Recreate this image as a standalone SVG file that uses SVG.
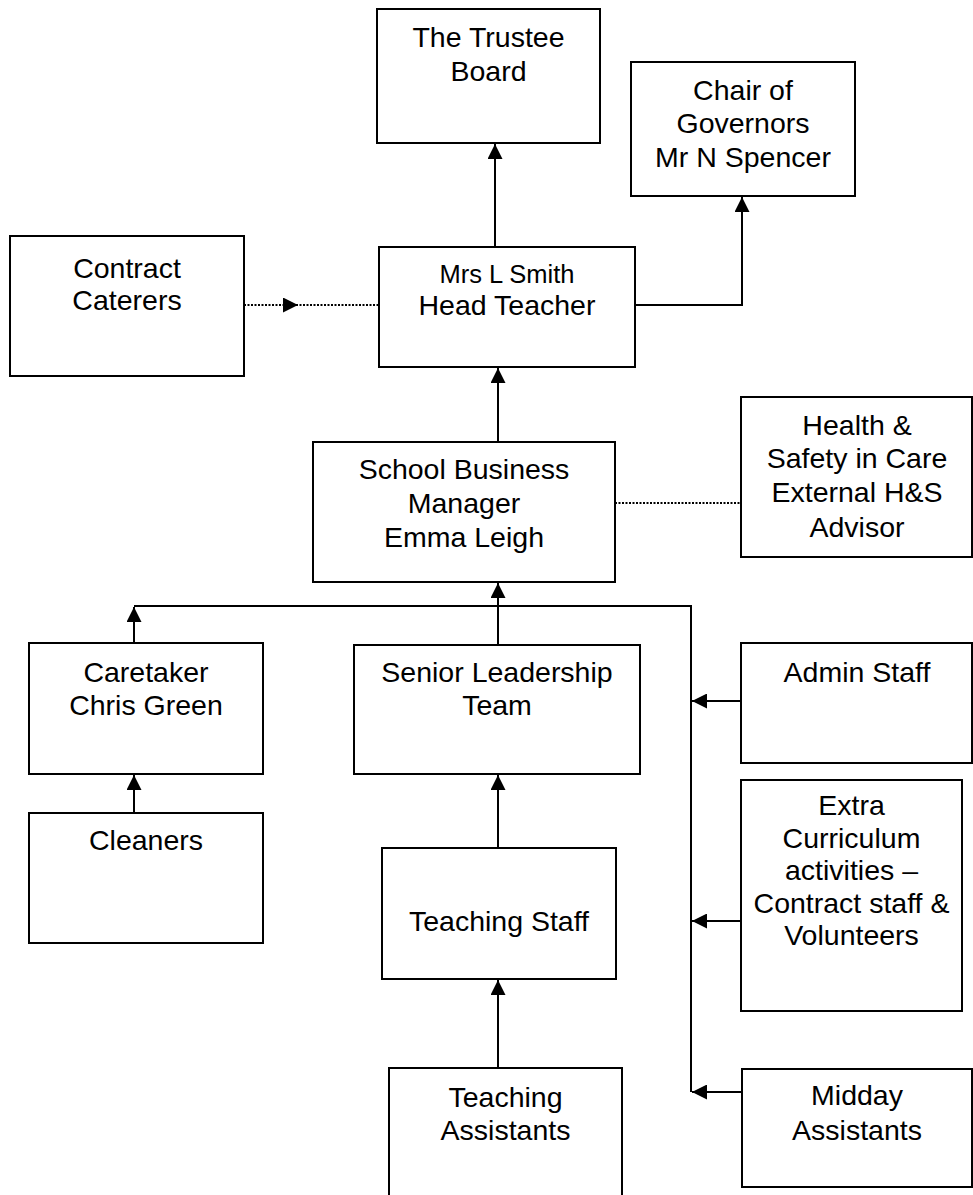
<svg xmlns="http://www.w3.org/2000/svg" width="973" height="1195" viewBox="0 0 973 1195">
<style>
.box{fill:#fff;stroke:#000;stroke-width:2}
.t{font-family:"Liberation Sans",Arial,sans-serif;font-size:28.5px;fill:#000;text-anchor:middle}
.s{font-size:25.5px}
.ln{fill:none;stroke:#000;stroke-width:2}
.dot{fill:none;stroke:#000;stroke-width:2;stroke-dasharray:2 1.5}
</style>
<defs>
<marker id="ah" viewBox="0 0 10 10" refX="10" refY="5" markerWidth="15" markerHeight="15" markerUnits="userSpaceOnUse" orient="auto">
<path d="M0,0 L10,5 L0,10 z" fill="#000"/>
</marker>
</defs>
<rect width="973" height="1195" fill="#fff"/>
<g id="connectors">
<line class="ln" x1="495" y1="247" x2="495" y2="144" marker-end="url(#ah)"/>
<polyline class="ln" points="635,305 742,305 742,197" marker-end="url(#ah)"/>
<line class="dot" x1="244" y1="305" x2="298" y2="305" marker-end="url(#ah)"/>
<line class="dot" x1="296" y1="305" x2="379" y2="305"/>
<line class="ln" x1="498" y1="442" x2="498" y2="368" marker-end="url(#ah)"/>
<line class="dot" x1="615" y1="503" x2="741" y2="503"/>
<polyline class="ln" points="134,606 691,606 691,1092"/>
<line class="ln" x1="134" y1="643" x2="134" y2="607" marker-end="url(#ah)"/>
<line class="ln" x1="498" y1="645" x2="498" y2="583" marker-end="url(#ah)"/>
<line class="ln" x1="134" y1="813" x2="134" y2="775" marker-end="url(#ah)"/>
<line class="ln" x1="498" y1="848" x2="498" y2="775" marker-end="url(#ah)"/>
<line class="ln" x1="498" y1="1068" x2="498" y2="980" marker-end="url(#ah)"/>
<line class="ln" x1="741" y1="701" x2="692" y2="701" marker-end="url(#ah)"/>
<line class="ln" x1="741" y1="921" x2="692" y2="921" marker-end="url(#ah)"/>
<line class="ln" x1="742" y1="1092" x2="692" y2="1092" marker-end="url(#ah)"/>
</g>
<g id="trustee"><rect class="box" x="377" y="9" width="223" height="134"/>
<text class="t" x="488.5" y="47">The Trustee</text><text class="t" x="488.5" y="81">Board</text></g>
<g id="chair"><rect class="box" x="631" y="62" width="224" height="134"/>
<text class="t" x="743" y="100">Chair of</text><text class="t" x="743" y="133">Governors</text><text class="t" x="743" y="167">Mr N Spencer</text></g>
<g id="caterers"><rect class="box" x="10" y="236" width="234" height="140"/>
<text class="t" x="127" y="278">Contract</text><text class="t" x="127" y="310">Caterers</text></g>
<g id="head"><rect class="box" x="379" y="247" width="256" height="120"/>
<text class="t s" x="507" y="283">Mrs L Smith</text><text class="t" x="507" y="315">Head Teacher</text></g>
<g id="sbm"><rect class="box" x="313" y="442" width="302" height="140"/>
<text class="t" x="464" y="479">School Business</text><text class="t" x="464" y="513">Manager</text><text class="t" x="464" y="547">Emma Leigh</text></g>
<g id="hs"><rect class="box" x="741" y="397" width="231" height="160"/>
<text class="t" x="857" y="435">Health &amp;</text><text class="t" x="857" y="468">Safety in Care</text><text class="t" x="857" y="502">External H&amp;S</text><text class="t" x="857" y="537">Advisor</text></g>
<g id="caretaker"><rect class="box" x="29" y="643" width="234" height="131"/>
<text class="t" x="146" y="682">Caretaker</text><text class="t" x="146" y="715">Chris Green</text></g>
<g id="slt"><rect class="box" x="354" y="645" width="286" height="129"/>
<text class="t" x="497" y="682">Senior Leadership</text><text class="t" x="497" y="715">Team</text></g>
<g id="admin"><rect class="box" x="741" y="643" width="231" height="120"/>
<text class="t" x="857" y="682">Admin Staff</text></g>
<g id="cleaners"><rect class="box" x="29" y="813" width="234" height="130"/>
<text class="t" x="146" y="850">Cleaners</text></g>
<g id="teaching"><rect class="box" x="382" y="848" width="234" height="131"/>
<text class="t" x="499" y="931">Teaching Staff</text></g>
<g id="extra"><rect class="box" x="741" y="780" width="221" height="231"/>
<text class="t" x="851.5" y="815">Extra</text><text class="t" x="851.5" y="848">Curriculum</text><text class="t" x="851.5" y="880">activities –</text><text class="t" x="851.5" y="913">Contract staff &amp;</text><text class="t" x="851.5" y="945">Volunteers</text></g>
<g id="ta"><rect class="box" x="389" y="1068" width="233" height="140"/>
<text class="t" x="505.5" y="1107">Teaching</text><text class="t" x="505.5" y="1140">Assistants</text></g>
<g id="midday"><rect class="box" x="742" y="1069" width="230" height="118"/>
<text class="t" x="857" y="1105">Midday</text><text class="t" x="857" y="1140">Assistants</text></g>
</svg>
